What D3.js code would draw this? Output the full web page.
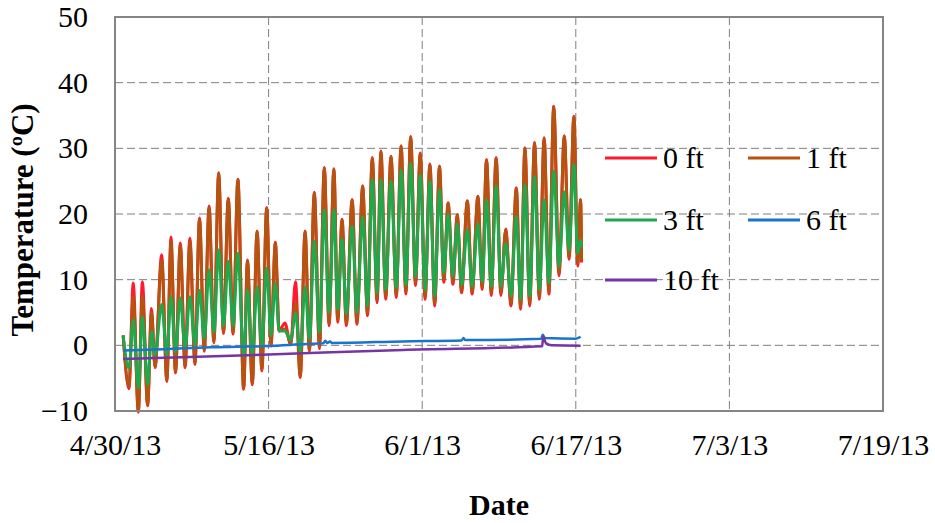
<!DOCTYPE html>
<html>
<head>
<meta charset="utf-8">
<script src="https://cdn.jsdelivr.net/npm/d3@7"></script>
<style>
  html, body { margin: 0; padding: 0; background: #fff; }
  svg { display: block; }
  text { font-family: "Liberation Serif", "Times New Roman", serif; fill: #000; }
</style>
</head>
<body>
<svg id="chart" width="935" height="523"></svg>
<script>
// Soil temperature record, days counted from 4/30/13 00:00
const startDate = "4/30/13";
const endDate = "7/19/13";
const xTickLabels = ["4/30/13", "5/16/13", "6/1/13", "6/17/13", "7/3/13", "7/19/13"];
const yTicks = [-10, 0, 10, 20, 30, 40, 50];

// daily highs and lows (time in days)
const shallowDays = [
  0.85, 1.45, 1.9, 2.43, 2.85, 3.4, 3.8, 4.17, 4.86, 5.4, 5.83, 6.3, 6.8, 7.3, 7.8, 8.33, 8.8, 9.3, 9.8, 10.3,
  10.8, 11.3, 11.8, 12.3, 12.8, 13.4, 13.8, 14.3, 14.8, 15.3, 15.8, 16.25, 16.7, 17.1, 17.7, 18.3, 18.8, 19.3, 19.8, 20.25,
  20.76, 21.3, 21.8, 22.3, 22.8, 23.2, 23.65, 24.1, 24.7, 25.2, 25.8, 26.3, 26.8, 27.3, 27.7, 28.2, 28.75, 29.3, 29.8, 30.3,
  30.8, 31.3, 31.8, 32.3, 32.8, 33.3, 33.8, 34.25, 34.7, 35.2, 35.65, 36.1, 36.7, 37.2, 37.8, 38.25, 38.7, 39.2, 39.7, 40.2,
  40.7, 41.25, 41.8, 42.25, 42.7, 43.2, 43.7, 44.2, 44.7, 45.2, 45.7, 46.25, 46.8, 47.3, 47.8, 48.2, 48.5, 48.6
];
const temp0ft = [
  1.5, -6.6, 9.5, -10.2, 9.7, -9.2, 5.6, -3.4, 13.8, -5.5, 16.5, -4.2, 15.6, -3.4, 16.3, -2.9, 19.4, -0.9, 21.2, 0.4,
  26.3, 1.8, 22.4, 1.7, 25.3, -6.7, 13.0, -6.0, 17.4, -3.9, 21.0, -0.1, 15.7, 2.2, 3.4, 0.1, 9.7, -4.9, 17.4, -0.9,
  23.3, -0.5, 27.1, 3.0, 26.9, 3.5, 19.2, 3.0, 22.2, 3.2, 24.3, 4.5, 28.6, 6.5, 29.6, 7.0, 28.8, 7.3, 30.4, 7.8,
  31.8, 9.1, 29.3, 7.0, 27.6, 6.0, 27.3, 9.6, 21.7, 9.3, 19.9, 8.0, 22.0, 7.8, 22.7, 8.5, 28.3, 7.6, 28.6, 7.6,
  17.7, 6.0, 24.0, 5.5, 30.1, 6.0, 30.9, 7.0, 31.6, 7.8, 36.4, 10.6, 31.9, 13.1, 34.9, 12.1, 22.2, 12.6
];
const temp1ft = [
  1.5, -6.3, 7.4, -10.0, 7.5, -9.0, 5.0, -3.2, 13.0, -5.3, 15.8, -4.0, 15.2, -3.2, 15.8, -2.7, 19.2, -0.7, 21.0, 0.6,
  26.2, 2.0, 22.3, 1.9, 25.2, -6.5, 12.8, -5.8, 17.3, -3.7, 20.9, 0.1, 15.6, 2.2, 2.5, 0.3, 6.5, -4.7, 17.3, -0.7,
  23.2, -0.2, 27.0, 3.4, 26.8, 3.9, 19.1, 3.4, 22.1, 3.6, 24.2, 4.9, 28.5, 6.9, 29.5, 7.4, 28.7, 7.7, 30.3, 8.2,
  31.7, 9.5, 29.2, 7.4, 27.5, 6.4, 27.2, 10.0, 21.6, 9.7, 19.8, 8.4, 21.9, 8.2, 22.6, 8.9, 28.2, 8.0, 28.5, 8.0,
  17.6, 6.4, 23.9, 5.9, 30.0, 6.4, 30.8, 7.4, 31.5, 8.2, 36.3, 11.0, 31.8, 13.5, 34.8, 12.5, 22.1, 13.0
];
const temp3ft = [
  1.5, -3.5, 3.9, -6.5, 4.3, -6.0, 2.1, -1.5, 6.2, -1.5, 7.4, -1.0, 7.2, -0.5, 7.4, 0.0, 8.4, 1.0, 11.5, 2.0,
  14.5, 3.0, 12.8, 3.0, 14.0, -1.7, 8.4, -1.5, 8.9, 0.0, 11.7, 1.5, 9.4, 2.2, 2.2, 0.8, 4.9, -1.0, 8.9, 1.0,
  15.8, 2.0, 20.6, 5.0, 20.6, 5.5, 16.1, 4.8, 18.1, 5.0, 19.5, 6.0, 25.2, 8.0, 25.2, 8.5, 25.0, 8.8, 26.7, 9.2,
  27.7, 10.5, 25.9, 8.5, 25.0, 7.5, 23.7, 11.0, 20.0, 10.5, 18.5, 9.2, 17.6, 9.0, 18.5, 9.7, 22.1, 9.0, 24.2, 9.0,
  15.5, 7.5, 19.6, 7.0, 24.4, 7.5, 25.7, 8.5, 22.1, 9.5, 26.5, 12.0, 23.4, 14.5, 27.5, 14.0, 16.0, 15.0
];

const days6ft = [0.85, 5, 10, 16, 20, 21.7, 21.9, 22.1, 22.4, 22.6, 30, 36.1, 36.3, 36.5, 44.4, 44.55, 44.8, 48.0, 48.5];
const temp6ft = [-0.8, -0.6, -0.3, -0.1, 0.2, 0.3, 0.7, 0.35, 0.6, 0.35, 0.6, 0.75, 1.1, 0.8, 1.0, 1.6, 1.1, 1.0, 1.3];

const days10ft = [0.85, 16, 30, 44.5, 44.6, 44.9, 45.5, 48.5];
const temp10ft = [-2.1, -1.4, -0.7, -0.15, 1.3, 0.3, 0.0, -0.05];

const seriesNames = ["0 ft", "1 ft", "3 ft", "6 ft", "10 ft"];
const seriesColors = ["#ff1a2e", "#b5530f", "#22a84c", "#1a74cc", "#7535a5"];

// ---- layout ----
const svg = d3.select("#chart");
const plot = { left: 115, right: 883, top: 17, bottom: 411 };

const parseDate = d3.utcParse("%m/%d/%y");
const t0 = parseDate(startDate);
const toDate = d => new Date(t0.getTime() + d * 864e5);

const x = d3.scaleUtc().domain([t0, parseDate(endDate)]).range([plot.left, plot.right]);
const y = d3.scaleLinear().domain([-10, 50]).range([plot.bottom, plot.top]);

svg.append("rect").attr("width", 935).attr("height", 523).attr("fill", "#fff");

// grid
const grid = svg.append("g").attr("stroke", "#7f7f7f").attr("stroke-width", 1)
  .attr("stroke-dasharray", "8,4").attr("fill", "none");
grid.selectAll("line.h").data(yTicks.slice(1, -1)).join("line")
  .attr("x1", plot.left).attr("x2", plot.right)
  .attr("y1", d => y(d)).attr("y2", d => y(d));
grid.selectAll("line.v").data(xTickLabels.slice(1, -1).map(parseDate)).join("line")
  .attr("y1", plot.top).attr("y2", plot.bottom)
  .attr("x1", d => x(d)).attr("x2", d => x(d));

// series
const line = d3.line().x(d => x(toDate(d[0]))).y(d => y(d[1])).curve(d3.curveMonotoneX);
const series = [
  { days: shallowDays, vals: temp0ft, width: 3 },
  { days: shallowDays, vals: temp1ft, width: 3 },
  { days: shallowDays, vals: temp3ft, width: 3 },
  { days: days6ft, vals: temp6ft, width: 2.5 },
  { days: days10ft, vals: temp10ft, width: 2.5 }
];
series.forEach((s, i) => {
  svg.append("path")
    .datum(s.days.map((d, j) => [d, s.vals[j]]))
    .attr("fill", "none")
    .attr("stroke", seriesColors[i])
    .attr("stroke-width", s.width)
    .attr("stroke-linejoin", "round")
    .attr("d", line);
});

// frame
svg.append("rect")
  .attr("x", plot.left).attr("y", plot.top)
  .attr("width", plot.right - plot.left).attr("height", plot.bottom - plot.top)
  .attr("fill", "none").attr("stroke", "#858585").attr("stroke-width", 2);

// axes
const yAxis = d3.axisLeft(y).tickValues(yTicks).tickSize(0).tickPadding(27);
svg.append("g").attr("transform", `translate(${plot.left},0)`).call(yAxis)
  .call(g => g.select(".domain").remove())
  .selectAll("text").style("font-size", "30px").style("font-family", "Liberation Serif").attr("fill", "#000");

const xAxis = d3.axisBottom(x).tickValues(xTickLabels.map(parseDate))
  .tickFormat((d, i) => xTickLabels[i]).tickSize(0).tickPadding(23);
svg.append("g").attr("transform", `translate(0,${plot.bottom})`).call(xAxis)
  .call(g => g.select(".domain").remove())
  .selectAll("text").style("font-size", "30px").style("font-family", "Liberation Serif").attr("fill", "#000");

svg.append("text").attr("x", (plot.left + plot.right) / 2).attr("y", 515)
  .attr("text-anchor", "middle").style("font-size", "30px").style("font-weight", "bold").text("Date");

svg.append("text").attr("transform", "translate(33,220) rotate(-90)")
  .attr("text-anchor", "middle").style("font-size", "31px").style("font-weight", "bold")
  .text("Temperature (ºC)");

// legend
const legendPos = [[605, 158], [748, 158], [605, 220], [748, 220], [605, 280]];
const legend = svg.append("g");
seriesNames.forEach((name, i) => {
  const [lx, ly] = legendPos[i];
  legend.append("line").attr("x1", lx).attr("x2", lx + 52).attr("y1", ly).attr("y2", ly)
    .attr("stroke", seriesColors[i]).attr("stroke-width", 3);
  legend.append("text").attr("x", lx + 58).attr("y", ly + 10)
    .style("font-size", "30px").text(name);
});
</script>
</body>
</html>
